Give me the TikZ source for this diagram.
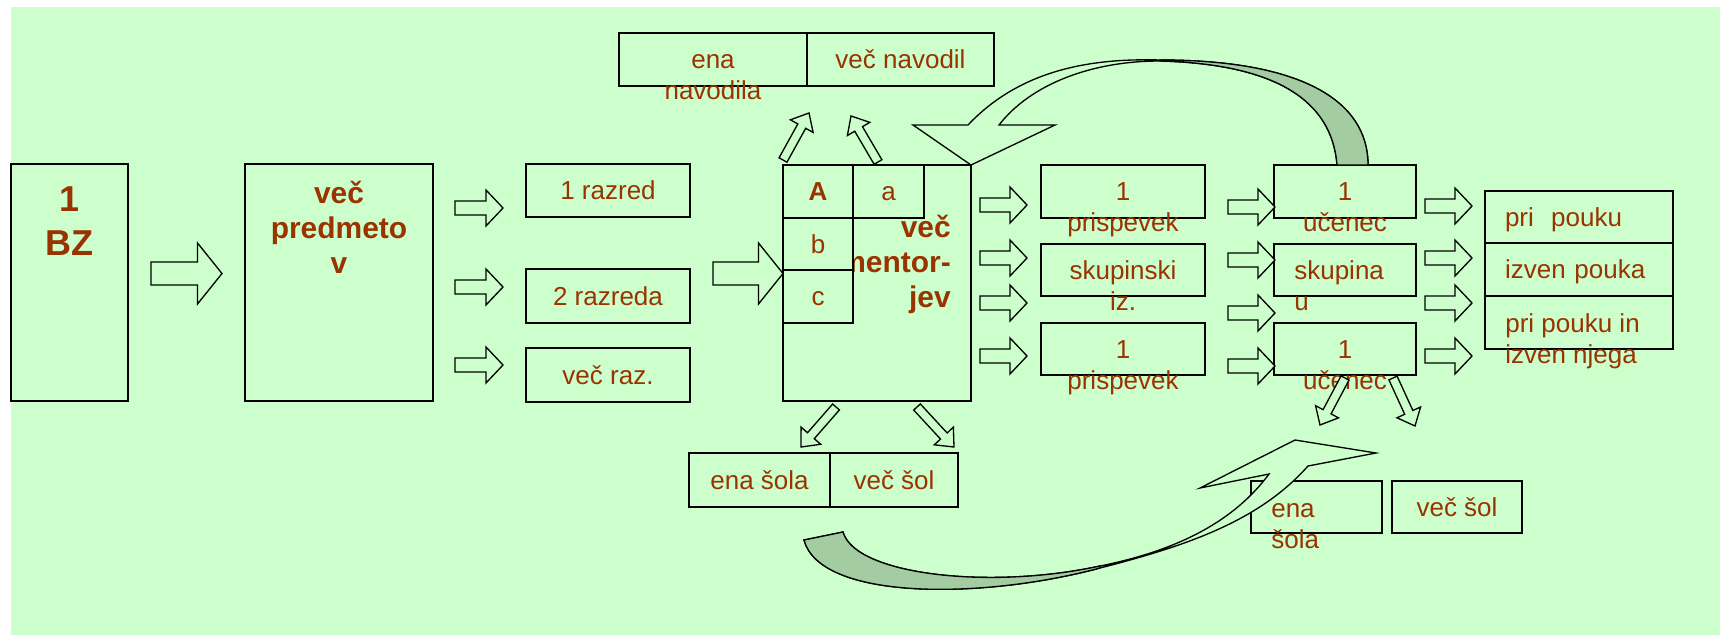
\documentclass[tikz,border=0pt]{standalone}
\usepackage{fontspec}
\setmainfont{Liberation Sans}
\usetikzlibrary{calc}
\definecolor{bgg}{RGB}{204,255,204}
\definecolor{txtr}{RGB}{153,51,0}
\definecolor{shade}{RGB}{163,204,163}
\newcommand{\fnreg}{\fontsize{18.5}{22}\selectfont}
\newcommand{\fnbold}{\bfseries\fontsize{21.3}{24.9}\selectfont}
\newcommand{\fnbig}{\bfseries\fontsize{25.6}{31.3}\selectfont}
% hollow block arrow: name, tail, tip, half shaft, half head, head length
\newcommand{\blockarrow}[6]{%
  \coordinate (#1-t) at #2;
  \coordinate (#1-h) at #3;
  \coordinate (#1-b) at ($(#1-h)!#6!(#1-t)$);
  \draw[blockline] ($(#1-t)!#4!90:(#1-h)$) -- ($(#1-b)!#4!90:(#1-h)$) -- ($(#1-b)!#5!90:(#1-h)$) -- (#1-h)
    -- ($(#1-b)!#5!-90:(#1-h)$) -- ($(#1-b)!#4!-90:(#1-h)$) -- ($(#1-t)!#4!-90:(#1-h)$) -- cycle;}
\newcommand{\smallarr}[3]{\blockarrow{#1}{#2}{#3}{1.75mm}{4.5mm}{4.25mm}}
\newcommand{\slantarr}[3]{\blockarrow{#1}{#2}{#3}{1.125mm}{3.25mm}{3.75mm}}
\newcommand{\bigarr}[3]{\blockarrow{#1}{#2}{#3}{2.875mm}{7.625mm}{6.125mm}}

\begin{document}
\begin{tikzpicture}[line join=miter,x=0.25mm,y=-0.25mm,
  bx/.style 2 args={draw,line width=0.5mm,fill=bgg,inner sep=0pt,outer sep=0pt,
    minimum width=#1*0.25mm,minimum height=#2*0.25mm,text=txtr,font=\fnreg,
    text height=13.5pt,text depth=0pt},
  lbl/.style={inner sep=0pt,text=txtr,font=\fnreg,align=center,anchor=north},
  blockline/.style={draw,line width=0.33mm,fill=bgg}]

\useasboundingbox (0,0) rectangle (1725,635);
\fill[bgg] (11,7) rectangle (1720,635);

% boxes
\node[bx={117}{237}] (bz) at (69.5,282.5) {};
\node[bx={188}{237}] (pred) at (339,282.5) {};
\node[bx={164}{53}] (r1) at (608,190.5) {1 razred};
\node[bx={164}{54}] (r2) at (608,296) {2 razreda};
\node[bx={164}{54}] (r3) at (608,375) {več raz.};
\node[bx={188}{236}] (men) at (877,283) {};
\node[bx={188}{53}] (nav1) at (713,59.5) {};
\node[bx={187}{53}] (nav2) at (900.5,59.5) {več navodil};
\node[bx={141}{54}] (sol1) at (759.5,480) {ena šola};
\node[bx={128}{54}] (sol2) at (894,480) {več šol};
\node[bx={164}{53}] (p1) at (1123,191.5) {};
\node[bx={164}{52}] (p2) at (1123,270) {};
\node[bx={164}{52}] (p3) at (1123,349) {};
\node[bx={142}{53}] (u1) at (1345,191.5) {};
\node[bx={142}{52}] (u2) at (1345,270) {};
\node[bx={142}{52}] (u3) at (1345,349) {};
\node[bx={188}{52},text width=37mm,align=left] (k1) at (1579,217) {pri\ \ pouku};
\node[bx={188}{53},text width=37mm,align=left] (k2) at (1579,269.5) {izven pouka};
\node[bx={188}{53}] (k3) at (1579,322.5) {};
\node[bx={131}{52}] (s1) at (1316.5,507) {};
\node[bx={130}{52}] (s2) at (1457,507) {več šol};

% texts
\node[lbl,font=\fnbig] (tbz) at (69.5,180.2) {\strut 1\\BZ};
\node[lbl,font=\fnbold] (tpred) at (339,178.5) {\strut več\\predmeto\\v};
\node[lbl,font=\fnbold,anchor=north east,align=right] (tmen) at (951,212.5) {\strut več\\mentor-\\jev};
\node[lbl] (tnav1) at (713,46.35) {\strut ena\\navodila};
\node[lbl] (tp1) at (1123,178.35) {\strut 1\\prispevek};
\node[lbl] (tp2) at (1123,257.35) {\strut skupinski\\iz.};
\node[lbl] (tp3) at (1123,336.35) {\strut 1\\prispevek};
\node[lbl] (tu1) at (1345,178.35) {\strut 1\\učenec};
\node[lbl,anchor=north west,align=left] (tu2) at (1294,257.35) {\strut skupina\\u};
\node[lbl] (tu3) at (1345,336.35) {\strut 1\\učenec};
\node[lbl,anchor=north west,align=left] (tk3) at (1505,310.35) {\strut pri pouku in\\izven njega};
\node[lbl,anchor=north west,align=left] (ts1) at (1271,495.35) {\strut ena\\šola};

% cells of the mentor box
\node[bx={70}{53},font=\fnreg\bfseries] (cA) at (818,191.5) {A};
\node[bx={71}{53}] (ca) at (888.5,191.5) {a};
\node[bx={70}{52}] (cb) at (818,244) {b};
\node[bx={70}{53}] (cc) at (818,296.5) {c};

% block arrows
\bigarr{g1}{(151,273.5)}{(222,273.5)}
\bigarr{g2}{(713,273.5)}{(783,273.5)}
\smallarr{a1}{(455,208)}{(503,208)}
\smallarr{a2}{(455,287)}{(503,287)}
\smallarr{a3}{(455,365)}{(503,365)}
\smallarr{b1}{(980,205)}{(1027,205)}
\smallarr{b2}{(980,258)}{(1027,258)}
\smallarr{b3}{(980,303)}{(1027,303)}
\smallarr{b4}{(980,356)}{(1027,356)}
\smallarr{c1}{(1228,207)}{(1275,207)}
\smallarr{c2}{(1228,260)}{(1275,260)}
\smallarr{c3}{(1228,313)}{(1275,313)}
\smallarr{c4}{(1228,366)}{(1275,366)}
\smallarr{d1}{(1425,206)}{(1472,206)}
\smallarr{d2}{(1425,258)}{(1472,258)}
\smallarr{d3}{(1425,303)}{(1472,303)}
\smallarr{d4}{(1425,356)}{(1472,356)}
\slantarr{n1}{(783,160)}{(809,113)}
\slantarr{n2}{(878,162)}{(851,116)}
\slantarr{m1}{(836,407)}{(801,447)}
\slantarr{m2}{(917,407)}{(954,447)}
\slantarr{m3}{(1345,378)}{(1320,425)}
\slantarr{m4}{(1393,378)}{(1415,426)}

% curved arrow on top
\draw[line width=0.33mm,fill=bgg] (968,125) .. controls (1020,70) and (1090,58) .. (1160,60)
  .. controls (1300,60) and (1368,100) .. (1368,165) -- (1337,165)
  .. controls (1332,100) and (1275,64) .. (1160,61) .. controls (1090,61) and (1030,85) .. (999,125)
  -- (1055,125) -- (men.north east) -- (913,125) -- cycle;
\draw[line width=0.33mm,fill=shade] (1160,60) .. controls (1300,60) and (1368,100) .. (1368,165)
  -- (1337,165) .. controls (1332,100) and (1275,64) .. (1160,61) -- cycle;

% curved arrow at the bottom
\draw[line width=0.33mm,fill=bgg] (804,540) .. controls (820,600) and (980,600) .. (1100,568)
  .. controls (1190,545) and (1260,520) .. (1308,466) -- (1376,453) -- (1295,440) -- (1200,488) -- (1269,474)
  .. controls (1235,520) and (1180,550) .. (1100,566) .. controls (990,590) and (855,575) .. (843,532) -- cycle;
\draw[line width=0.33mm,fill=shade] (804,540) .. controls (820,600) and (980,600) .. (1100,568)
  -- (1100,566) .. controls (990,590) and (855,575) .. (843,532) -- cycle;

\end{tikzpicture}
\end{document}
